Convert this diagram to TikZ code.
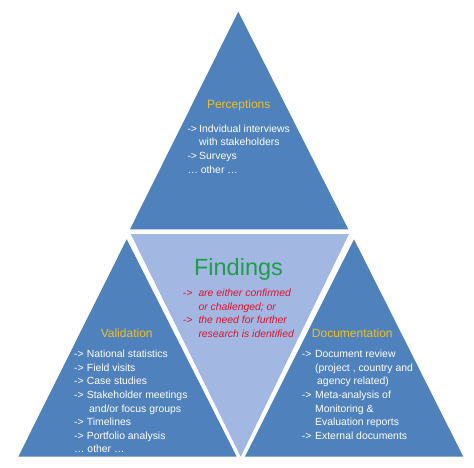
\documentclass[tikz,border=0pt]{standalone}
\usepackage{fontspec}
\setmainfont{Liberation Sans}
\definecolor{triblue}{HTML}{4F81BD}
\definecolor{trilight}{HTML}{A2B8E2}
\definecolor{headgold}{HTML}{F2C01E}
\definecolor{findgreen}{HTML}{1E9E4A}
\definecolor{findred}{HTML}{E3102B}
\newcommand{\arr}[1]{\makebox[#1][l]{->}}
\newcommand{\lines}[1]{\begin{tabular}[t]{@{}l@{}}#1\end{tabular}}
\begin{document}
\begin{tikzpicture}[x=1pt,y=-1pt,
  tri/.style={fill=triblue},
  mid/.style={fill=trilight},
  head/.style={font=\fontsize{12}{14}\selectfont, text=headgold, inner sep=0pt, anchor=base},
  body/.style={font=\fontsize{10.4}{13.6}\selectfont, text=white, inner sep=0pt, anchor=base west},
  redbody/.style={font=\fontsize{10.4}{13.6}\selectfont\itshape, text=findred, inner sep=0pt, anchor=base west}]
\useasboundingbox (0,0) rectangle (474,468);
\fill[white] (0,0) rectangle (474,468);
% triangles
\fill[tri] (238.3,11.7) -- (348.3,229.3) -- (130,229.3) -- cycle;
\fill[tri] (126.7,239.3) -- (236.7,456.7) -- (18.3,456.7) -- cycle;
\fill[tri] (354,239.3) -- (463.3,456.7) -- (245,456.7) -- cycle;
\fill[mid] (130.7,234) -- (349,234) -- (240.7,456.7) -- cycle;
% top
\node[head] (perc) at (238.7,108.3) {Perceptions};
\node[body] (perctext) at (187.3,132.3) {\lines{\arr{11.7pt}Indvidual interviews\\
\hspace*{11.7pt}with stakeholders\\
\arr{11.7pt}Surveys\\
… other …}};
% center
\node[font=\fontsize{23.5}{26}\selectfont, text=findgreen, inner sep=0pt, anchor=base] (find) at (238.5,275) {Findings};
\node[redbody] (findtext) at (182.7,296.7) {\lines{\arr{15.6pt}are either confirmed\\
\hspace*{15.6pt}or challenged; or\\
\arr{15.6pt}the need for further\\
\hspace*{15.6pt}research is identified}};
% left
\node[head] (valid) at (126.7,337.3) {Validation};
\node[body] (validtext) at (74,357.7) {\lines{\arr{12.7pt}National statistics\\
\arr{12.7pt}Field visits\\
\arr{12.7pt}Case studies\\
\arr{12.7pt}Stakeholder meetings\\
\hspace*{15pt}and/or focus groups\\
\arr{12.7pt}Timelines\\
\arr{12.7pt}Portfolio analysis\\
… other …}};
% right
\node[head] (doc) at (352.3,337.3) {Documentation};
\node[body] (doctext) at (301.7,357.7) {\lines{\arr{13.3pt}Document review\\
\hspace*{13.3pt}(project , country and\\
\hspace*{15.3pt}agency related)\\
\arr{13.3pt}Meta-analysis of\\
\hspace*{13.3pt}Monitoring \&\\
\hspace*{13.3pt}Evaluation reports\\
\arr{13.3pt}External documents}};
\end{tikzpicture}
\end{document}
